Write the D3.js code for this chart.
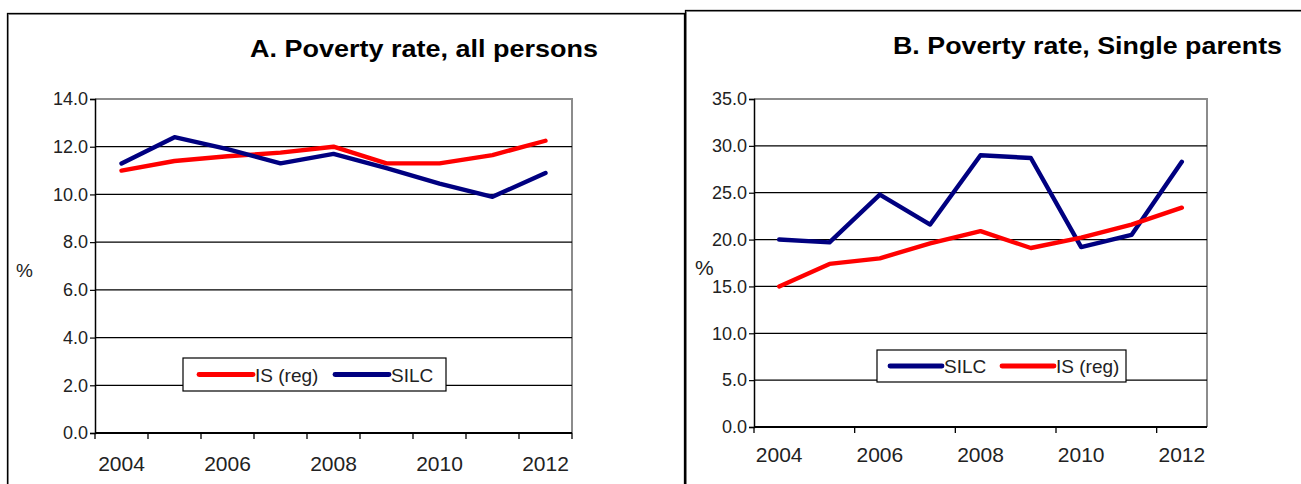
<!DOCTYPE html>
<html>
<head>
<meta charset="utf-8">
<script src="https://cdn.jsdelivr.net/npm/d3@7"></script>
<style>
  html, body { margin: 0; padding: 0; background: #fff; }
  svg { display: block; font-family: "Liberation Sans", Arial, sans-serif; }
</style>
</head>
<body>
<svg id="chart" width="1301" height="484"></svg>
<script>
// Survey years shared by both panels
const years = [2004, 2005, 2006, 2007, 2008, 2009, 2010, 2011, 2012];
const yearLabels = ["2004", "2006", "2008", "2010", "2012"];

// Panel A: poverty rate, all persons (%)
const allIS = [11.0, 11.4, 11.6, 11.75, 12.0, 11.3, 11.3, 11.65, 12.25];
const allSILC = [11.3, 12.4, 11.9, 11.3, 11.7, 11.1, 10.45, 9.9, 10.9];
const allTicks = [0, 2, 4, 6, 8, 10, 12, 14];

// Panel B: poverty rate, single parents (%)
const singleSILC = [20.0, 19.7, 24.8, 21.6, 29.0, 28.7, 19.2, 20.5, 28.3];
const singleIS = [15.0, 17.4, 18.0, 19.6, 20.9, 19.1, 20.2, 21.6, 23.4];
const singleTicks = [0, 5, 10, 15, 20, 25, 30, 35];

const RED = "#ff0000", NAVY = "#000080";

const svg = d3.select("#chart");

// Outer frames of the two panels
function frame(x, y, w, h) {
  svg.append("rect").attr("x", x + 1).attr("y", y + 1).attr("width", w).attr("height", h)
    .attr("fill", "none").attr("stroke", "#999").attr("stroke-width", 1);
  svg.append("rect").attr("x", x).attr("y", y).attr("width", w).attr("height", h)
    .attr("fill", "none").attr("stroke", "#000").attr("stroke-width", 1.3);
}
frame(7.5, 13.5, 677, 500);
frame(685.5, 10.5, 640, 500);

function panel(cfg) {
  const { left, right, top, bottom } = cfg;
  const g = svg.append("g");

  const x = d3.scaleBand().domain(years).range([left, right]).paddingInner(0).paddingOuter(0);
  const y = d3.scaleLinear().domain([0, d3.max(cfg.ticks)]).range([bottom, top]);
  const cx = d => x(d) + x.bandwidth() / 2;

  // Plot frame (top and right edges in grey)
  g.append("path")
    .attr("d", `M${left},${top}H${right}V${bottom}`)
    .attr("fill", "none").attr("stroke", "#8c8c8c").attr("stroke-width", 2);

  // Horizontal gridlines
  g.selectAll(".grid").data(cfg.ticks.filter(t => t > 0 && t < d3.max(cfg.ticks)))
    .join("line")
    .attr("x1", left).attr("x2", right)
    .attr("y1", d => y(d)).attr("y2", d => y(d))
    .attr("stroke", "#000").attr("stroke-width", 1.2);

  // Y axis
  const yAxis = d3.axisLeft(y).tickValues(cfg.ticks).tickFormat(d3.format(".1f")).tickSize(5).tickPadding(2);
  const ya = g.append("g").attr("transform", `translate(${left},0)`).call(yAxis);
  ya.attr("font-size", null).attr("font-family", null);
  ya.select(".domain").attr("stroke", "#000").attr("stroke-width", 1.5);
  ya.selectAll(".tick line").attr("stroke", "#000").attr("stroke-width", 1.2);
  ya.selectAll("text").style("font-size", "18px").attr("fill", "#222");

  // X axis: tick marks on category boundaries
  const bounds = d3.range(0, years.length + 1, cfg.tickEvery)
    .map(i => left + i * x.bandwidth())
    .filter(v => v <= right + 0.5);
  g.selectAll(".xt").data(bounds).join("line")
    .attr("x1", d => d).attr("x2", d => d)
    .attr("y1", bottom).attr("y2", bottom + 6)
    .attr("stroke", "#000").attr("stroke-width", 1.3);
  g.append("line").attr("x1", left).attr("x2", right).attr("y1", bottom).attr("y2", bottom)
    .attr("stroke", "#000").attr("stroke-width", 1.8);
  g.selectAll(".xl").data(yearLabels).join("text")
    .attr("x", d => cx(+d)).attr("y", cfg.labelY)
    .attr("text-anchor", "middle").style("font-size", "21px").attr("fill", "#222")
    .text(d => d);

  // Unit label
  g.append("text").attr("x", cfg.unitX).attr("y", cfg.unitY)
    .style("font-size", cfg.unitSize + "px").attr("fill", "#222").text("%");

  // Title
  g.append("text").attr("x", cfg.titleX).attr("y", cfg.titleY)
    .style("font-size", "24px").attr("font-weight", "bold").attr("fill", "#000")
    .attr("textLength", cfg.titleW).attr("lengthAdjust", "spacingAndGlyphs")
    .text(cfg.title);

  // Legend box
  const lg = cfg.legend;
  g.append("rect").attr("x", lg.x).attr("y", lg.y).attr("width", lg.w).attr("height", lg.h)
    .attr("fill", "#fff").attr("stroke", "#000").attr("stroke-width", 1.2);

  // Series lines
  const line = d3.line().x((d, i) => cx(years[i])).y(d => y(d));
  cfg.series.forEach(s => {
    g.append("path").datum(s.values)
      .attr("d", line).attr("fill", "none")
      .attr("stroke", s.color).attr("stroke-width", 4.4)
      .attr("stroke-linejoin", "round").attr("stroke-linecap", "round");
  });

  // Legend entries
  cfg.series.forEach((s, i) => {
    const e = lg.entries[i];
    g.append("line").attr("x1", e.x1).attr("x2", e.x2).attr("y1", lg.y + lg.h / 2).attr("y2", lg.y + lg.h / 2)
      .attr("stroke", s.color).attr("stroke-width", 4.8).attr("stroke-linecap", "round");
    g.append("text").attr("x", e.x2 + 2).attr("y", lg.y + lg.h / 2 + 7)
      .style("font-size", "19px").attr("fill", "#222").text(s.name);
  });
}

panel({
  left: 95, right: 572, top: 99, bottom: 433,
  ticks: allTicks, tickEvery: 1, labelY: 471,
  unitX: 16, unitY: 277, unitSize: 19,
  title: "A. Poverty rate, all persons", titleX: 250, titleY: 57, titleW: 348,
  series: [
    { name: "IS (reg)", values: allIS, color: RED },
    { name: "SILC", values: allSILC, color: NAVY }
  ],
  legend: { x: 183, y: 358, w: 263, h: 33,
    entries: [{ x1: 199, x2: 253 }, { x1: 335, x2: 389 }] }
});

panel({
  left: 754, right: 1207, top: 99, bottom: 427,
  ticks: singleTicks, tickEvery: 2, labelY: 462,
  unitX: 695, unitY: 275, unitSize: 21,
  title: "B. Poverty rate, Single parents", titleX: 893, titleY: 54, titleW: 389,
  series: [
    { name: "SILC", values: singleSILC, color: NAVY },
    { name: "IS (reg)", values: singleIS, color: RED }
  ],
  legend: { x: 877, y: 350, w: 249, h: 32,
    entries: [{ x1: 890, x2: 942 }, { x1: 1002, x2: 1054 }] }
});
</script>
</body>
</html>
